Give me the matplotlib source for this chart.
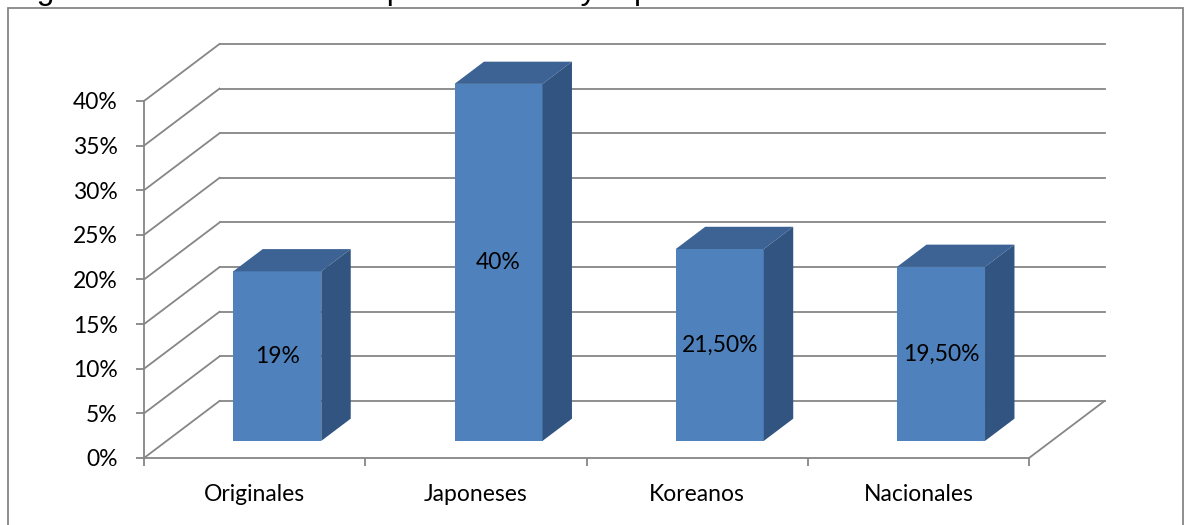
import matplotlib
matplotlib.use('Agg')
import matplotlib.pyplot as plt
from matplotlib.patches import Polygon, Rectangle
from matplotlib.lines import Line2D

# data
categories = ['Originales', 'Japoneses', 'Koreanos', 'Nacionales']
values = [19, 40, 21.5, 19.5]
value_labels = ['19%', '40%', '21,50%', '19,50%']
y_ticks = [0, 5, 10, 15, 20, 25, 30, 35, 40]
caption = 'Figura 4: Resultado de respuesta de mayor preferencia'

W, H = 1186, 525
plt.rcParams['font.family'] = ['Lato', 'DejaVu Sans']
fig = plt.figure(figsize=(W / 100, H / 100), dpi=100)

grid_col = '#868686'
front_col = '#4F81BD'
top_col = '#3C6393'
side_col = '#325480'
fs = 16.5

# front plane of the fake 3d box (figure fraction)
ax = fig.add_axes([144 / W, (H - 458) / H, (1029 - 144) / W, (458 - 101) / H])
ax.set_xlim(-0.5, len(categories) - 0.5)
ax.set_ylim(0, 40)
ax.set_facecolor('none')

# depth offset of the box, in data units
px_x = (1029 - 144) / len(categories)
px_y = (458 - 101) / 40
DX = 75.5 / px_x
DY = 57 / px_y
xl, xr = -0.5, len(categories) - 0.5

# back wall + left wall grid
for v in y_ticks:
    ax.add_line(Line2D([xl + DX, xr + DX], [v + DY, v + DY], color=grid_col, lw=1.3, clip_on=False, zorder=1))
    ax.add_line(Line2D([xl, xl + DX], [v, v + DY], color=grid_col, lw=1.3, clip_on=False, zorder=1))
# floor right edge
ax.add_line(Line2D([xr, xr + DX], [0, DY], color=grid_col, lw=1.3, clip_on=False, zorder=1))

# bars
bw = 88 / px_x
f0, f1 = 0.3, 0.69
for i, (v, lab) in enumerate(zip(values, value_labels)):
    x0 = i - bw / 2 + f0 * DX
    y0 = f0 * DY
    bdx = (f1 - f0) * DX
    bdy = (f1 - f0) * DY
    ax.add_patch(Rectangle((x0, y0), bw, v, facecolor=front_col, edgecolor='none', clip_on=False, zorder=3))
    ax.add_patch(Polygon([(x0, y0 + v), (x0 + bw, y0 + v), (x0 + bw + bdx, y0 + v + bdy), (x0 + bdx, y0 + v + bdy)],
                         closed=True, facecolor=top_col, edgecolor='none', clip_on=False, zorder=3))
    ax.add_patch(Polygon([(x0 + bw, y0), (x0 + bw + bdx, y0 + bdy), (x0 + bw + bdx, y0 + v + bdy), (x0 + bw, y0 + v)],
                         closed=True, facecolor=side_col, edgecolor='none', clip_on=False, zorder=3))
    ax.text(x0 + bw / 2, y0 + v / 2, lab, ha='center', va='center', fontsize=fs, color='black', zorder=4)

# axes styling
for s in ['top', 'right']:
    ax.spines[s].set_visible(False)
for s in ['left', 'bottom']:
    ax.spines[s].set_color(grid_col)
    ax.spines[s].set_linewidth(1.3)
ax.set_yticks(y_ticks)
ax.set_yticklabels([f'{t}%' for t in y_ticks])
ax.tick_params(axis='y', length=6, width=1.3, color=grid_col, pad=13, labelsize=fs)
ax.set_xticks([i - 0.5 for i in range(len(categories) + 1)])
ax.set_xticklabels([])
ax.set_xticks(range(len(categories)), minor=True)
ax.set_xticklabels(categories, minor=True)
ax.tick_params(axis='x', which='major', length=6, width=1.3, color=grid_col)
ax.tick_params(axis='x', which='minor', length=0, pad=19, labelsize=fs)

# chart border and cut caption (only its lower edge shows, as in the page crop)
fig.add_artist(Rectangle((8 / W, -0.05), (1183 - 8) / W, 1.05 - 8 / H, transform=fig.transFigure,
                         fill=False, edgecolor=grid_col, lw=1.3))
fig.text(10 / W, 1 - 6 / H, caption, ha='left', va='bottom', fontsize=23,
         family=['Liberation Sans', 'DejaVu Sans'])

fig.savefig('out.png', dpi=100)
